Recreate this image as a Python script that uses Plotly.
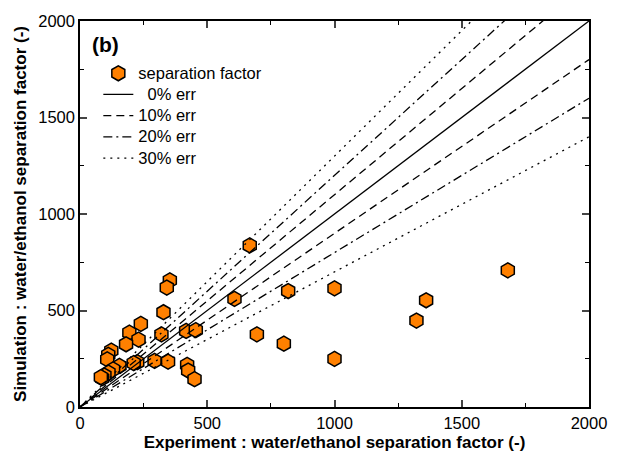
import plotly.graph_objects as go

exp_x = [667, 353, 341, 607, 328, 239, 194, 230, 181, 320, 417, 455, 695,
         123, 111, 107, 155, 130, 112, 96, 87, 82, 225, 211, 293, 346, 421, 425, 450,
         818, 1000, 1360, 1322, 1681, 801, 1000]
sim_y = [837, 656, 619, 560, 491, 431, 385, 349, 325, 376, 394, 398, 376,
         292, 270, 247, 213, 195, 178, 163, 149, 155, 232, 227, 239, 235, 218, 189, 144,
         601, 615, 553, 448, 708, 328, 249]

err_levels = [0, 10, 20, 30]
err_labels = ["  0% err", "10% err", "20% err", "30% err"]
err_dash = ["solid", "8px,5px", "9px,4px,2px,4px", "2px,5px"]
axis_max = 2000

font = "Arial, Liberation Sans, sans-serif"
big = '<span style="font-size:16.5px">{}</span>'
fig = go.Figure()

fig.add_trace(go.Scatter(
    x=exp_x, y=sim_y, mode="markers", name=big.format("separation factor"),
    marker=dict(symbol="hexagon", size=15, color="#FF8000",
                line=dict(color="black", width=1.5)),
))

for lvl, lab, dash in zip(err_levels, err_labels, err_dash):
    factors = [1 + lvl / 100] if lvl == 0 else [1 + lvl / 100, 1 - lvl / 100]
    for i, f in enumerate(factors):
        fig.add_trace(go.Scatter(
            x=[0, axis_max], y=[0, axis_max * f], mode="lines",
            name=big.format(lab), showlegend=(i == 0), legendgroup=lab,
            line=dict(color="black", width=1.3, dash=dash),
        ))

axis_common = dict(
    range=[0, axis_max], dtick=500, ticks="inside", ticklen=7, tickwidth=1.5,
    showline=True, linecolor="black", linewidth=1.5, mirror="ticks",
    showgrid=False, zeroline=False,
    minor=dict(dtick=250, ticks="inside", ticklen=4, tickwidth=1.2, tickcolor="black"),
    tickfont=dict(family=font, size=16.5, color="black"),
)

fig.update_xaxes(**axis_common, title_text="<b>Experiment : water/ethanol separation factor (-)</b>",
                 title_standoff=6, title_font=dict(family=font, size=17, color="black"))
fig.update_yaxes(**axis_common, title_text="<b>Simulation : water/ethanol separation factor (-)</b>",
                 title_standoff=7, title_font=dict(family=font, size=17, color="black"))

fig.add_annotation(x=0.02, y=0.975, xref="paper", yref="paper", text="<b>(b)</b>",
                   showarrow=False, xanchor="left", yanchor="top",
                   font=dict(family=font, size=21, color="black"))

fig.update_layout(
    width=620, height=466,
    margin=dict(l=80, r=31, t=19, b=59),
    plot_bgcolor="white", paper_bgcolor="white",
    legend=dict(x=0.036, y=0.905, xanchor="left", yanchor="top",
                bgcolor="rgba(0,0,0,0)", font=dict(family=font, size=14, color="black"),
                tracegroupgap=0, itemwidth=30),
    showlegend=True,
)

fig.write_html("out.html")
